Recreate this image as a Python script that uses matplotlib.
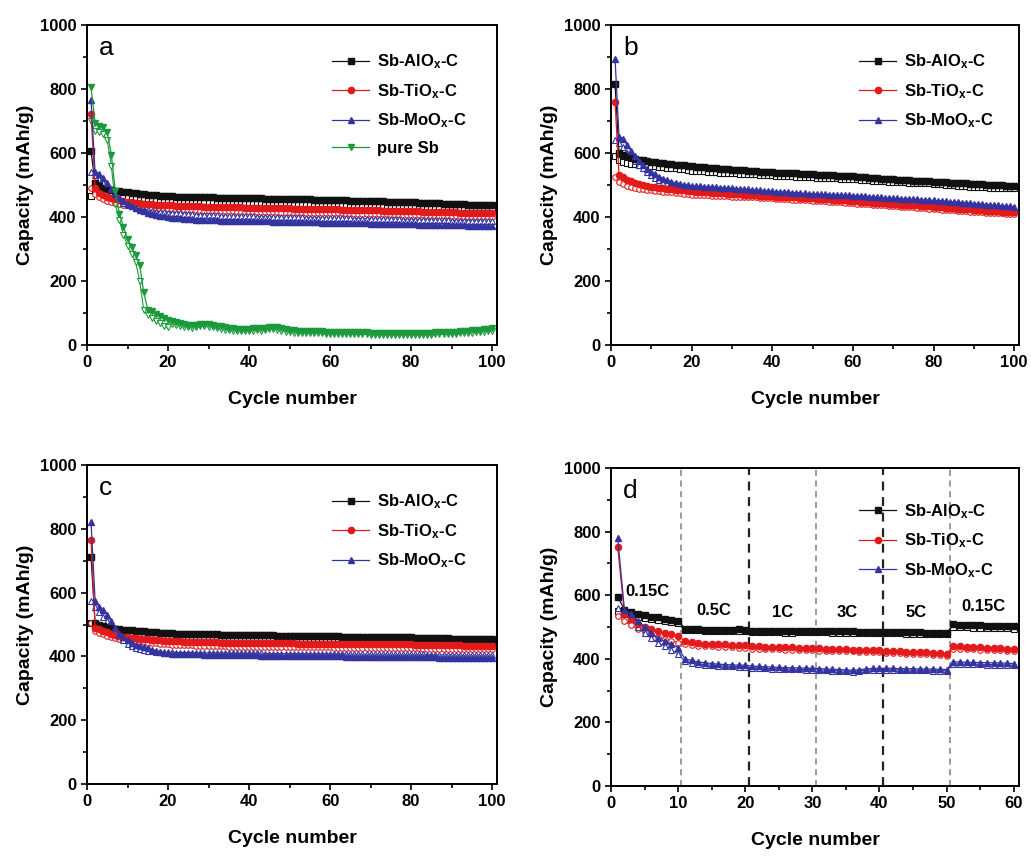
import numpy as np
import matplotlib
matplotlib.use("Agg")
import matplotlib.pyplot as plt

plt.rcParams['font.family'] = ['Liberation Sans', 'DejaVu Sans']
plt.rcParams['mathtext.fontset'] = 'custom'
plt.rcParams['mathtext.rm'] = 'Liberation Sans:bold'
plt.rcParams['mathtext.it'] = 'Liberation Sans:bold'
plt.rcParams['mathtext.bf'] = 'Liberation Sans:bold'

# ---- data (capacity, mAh/g), read per cycle from the figure ----
# panel a
a_al_ch = [605, 505, 497, 492, 488, 485, 482, 480, 478, 477,
           475, 474, 472, 471, 470, 469, 468, 467, 466, 465,
           465, 464, 464, 463, 463, 462, 462, 462, 461, 461,
           461, 460, 460, 460, 460, 459, 459, 459, 459, 458,
           458, 458, 458, 457, 457, 457, 457, 456, 456, 456,
           456, 455, 455, 455, 455, 454, 454, 454, 453, 453,
           453, 452, 452, 452, 451, 451, 451, 450, 450, 450,
           449, 449, 449, 448, 448, 448, 447, 447, 446, 446,
           446, 445, 445, 444, 444, 443, 443, 442, 442, 441,
           441, 440, 440, 439, 439, 438, 438, 437, 437, 437]
a_al_dis = [465, 482, 478, 474, 471, 469, 467, 465, 464, 462,
            461, 460, 459, 458, 457, 456, 455, 454, 453, 452,
            452, 451, 451, 450, 450, 450, 449, 449, 449, 448,
            448, 448, 448, 447, 447, 447, 447, 446, 446, 446,
            446, 445, 445, 445, 445, 444, 444, 444, 444, 443,
            443, 443, 443, 442, 442, 442, 442, 441, 441, 441,
            441, 440, 440, 440, 439, 439, 439, 438, 438, 438,
            437, 437, 437, 436, 436, 436, 435, 435, 434, 434,
            434, 433, 433, 432, 432, 431, 431, 430, 430, 429,
            429, 428, 428, 427, 427, 426, 426, 425, 425, 425]
a_ti_ch = [722, 490, 476, 468, 462, 458, 455, 452, 450, 448,
           446, 445, 443, 442, 441, 440, 439, 438, 437, 436,
           436, 435, 435, 434, 434, 433, 433, 433, 432, 432,
           432, 431, 431, 431, 430, 430, 430, 430, 429, 429,
           429, 429, 428, 428, 428, 428, 427, 427, 427, 427,
           426, 426, 426, 426, 425, 425, 425, 425, 424, 424,
           424, 424, 423, 423, 423, 422, 422, 422, 422, 421,
           421, 421, 420, 420, 420, 420, 419, 419, 419, 418,
           418, 418, 417, 417, 417, 416, 416, 416, 415, 415,
           415, 414, 414, 414, 413, 413, 413, 412, 412, 412]
a_ti_dis = [490, 472, 462, 455, 450, 446, 443, 440, 438, 436,
            434, 432, 431, 430, 429, 428, 427, 426, 425, 424,
            424, 423, 423, 422, 422, 421, 421, 420, 420, 420,
            419, 419, 419, 418, 418, 418, 417, 417, 417, 416,
            416, 416, 416, 415, 415, 415, 415, 414, 414, 414,
            414, 413, 413, 413, 413, 412, 412, 412, 412, 411,
            411, 411, 411, 410, 410, 410, 410, 409, 409, 409,
            408, 408, 408, 408, 407, 407, 407, 406, 406, 406,
            405, 405, 405, 404, 404, 404, 403, 403, 403, 402,
            402, 402, 401, 401, 401, 400, 400, 400, 399, 399]
a_mo_ch = [765, 540, 535, 522, 505, 488, 472, 460, 450, 442,
           435, 428, 422, 418, 414, 410, 407, 404, 402, 400,
           398, 397, 396, 395, 394, 393, 392, 392, 391, 391,
           390, 390, 389, 389, 389, 388, 388, 388, 387, 387,
           387, 386, 386, 386, 386, 385, 385, 385, 385, 384,
           384, 384, 384, 383, 383, 383, 383, 382, 382, 382,
           382, 381, 381, 381, 381, 380, 380, 380, 380, 379,
           379, 379, 379, 378, 378, 378, 378, 377, 377, 377,
           377, 376, 376, 376, 376, 375, 375, 375, 375, 374,
           374, 374, 374, 373, 373, 373, 372, 372, 371, 371]
a_mo_dis = [540, 530, 518, 505, 490, 475, 462, 452, 444, 438,
            433, 429, 426, 423, 421, 419, 417, 416, 415, 414,
            413, 412, 411, 410, 409, 408, 407, 407, 406, 406,
            405, 405, 404, 404, 404, 403, 403, 403, 402, 402,
            402, 401, 401, 401, 401, 400, 400, 400, 400, 399,
            399, 399, 399, 398, 398, 398, 398, 397, 397, 397,
            397, 396, 396, 396, 396, 395, 395, 395, 395, 394,
            394, 394, 394, 393, 393, 393, 393, 392, 392, 392,
            392, 391, 391, 391, 391, 390, 390, 390, 390, 389,
            389, 389, 389, 388, 388, 388, 387, 387, 386, 386]
a_sb_ch = [805, 695, 685, 680, 665, 595, 480, 410, 370, 330,
           305, 280, 250, 165, 110, 105, 98, 92, 85, 78,
           75, 72, 70, 66, 63, 62, 64, 66, 67, 65,
           63, 60, 58, 55, 53, 52, 51, 50, 50, 51,
           52, 53, 52, 54, 56, 57, 55, 52, 49, 47,
           46, 45, 45, 44, 44, 43, 43, 43, 42, 42,
           42, 41, 41, 41, 40, 40, 40, 40, 40, 39,
           39, 39, 39, 39, 38, 38, 38, 38, 38, 38,
           38, 38, 39, 39, 39, 40, 40, 40, 41, 41,
           42, 43, 44, 45, 46, 47, 48, 49, 50, 52]
a_sb_dis = [700, 670, 665, 658, 640, 560, 440, 390, 345, 310,
            285, 260, 200, 110, 95, 85, 75, 68, 60, 55,
            65, 63, 60, 57, 55, 54, 56, 58, 59, 57,
            55, 52, 50, 48, 46, 45, 44, 43, 43, 44,
            45, 46, 45, 47, 49, 50, 48, 45, 42, 40,
            39, 38, 38, 37, 37, 36, 36, 36, 35, 35,
            35, 34, 34, 34, 33, 33, 33, 33, 33, 32,
            32, 32, 32, 32, 31, 31, 31, 31, 31, 31,
            31, 31, 32, 32, 32, 33, 33, 33, 34, 34,
            35, 36, 37, 38, 39, 40, 41, 42, 43, 45]

# panel b
b_al_ch = [815, 600, 595, 590, 586, 582, 579, 577, 575, 573,
           571, 570, 568, 567, 565, 564, 562, 561, 560, 558,
           557, 556, 555, 554, 553, 552, 551, 550, 549, 548,
           547, 546, 546, 545, 544, 543, 542, 542, 541, 540,
           539, 539, 538, 537, 536, 536, 535, 534, 534, 533,
           532, 532, 531, 530, 530, 529, 529, 528, 527, 527,
           526, 525, 524, 523, 522, 521, 520, 520, 519, 518,
           517, 516, 516, 515, 514, 513, 513, 512, 511, 510,
           509, 509, 508, 507, 507, 506, 505, 505, 504, 503,
           503, 502, 501, 501, 500, 500, 499, 498, 498, 497]
b_al_dis = [590, 578, 572, 569, 567, 565, 563, 562, 561, 560,
            558, 557, 556, 554, 553, 552, 550, 549, 547, 545,
            544, 544, 543, 542, 541, 540, 539, 538, 538, 537,
            536, 535, 535, 534, 533, 533, 532, 531, 531, 530,
            529, 529, 528, 527, 527, 526, 526, 525, 524, 524,
            523, 523, 522, 522, 521, 521, 520, 520, 520, 519,
            518, 517, 516, 515, 514, 513, 512, 511, 510, 509,
            509, 508, 508, 507, 507, 506, 506, 505, 505, 504,
            503, 502, 501, 500, 499, 498, 497, 496, 495, 494,
            494, 493, 493, 492, 492, 491, 491, 490, 490, 490]
b_ti_ch = [760, 530, 525, 517, 511, 507, 503, 500, 497, 495,
           493, 491, 490, 488, 487, 485, 484, 483, 481, 480,
           479, 478, 478, 477, 476, 475, 474, 474, 473, 472,
           471, 471, 470, 469, 469, 468, 467, 467, 466, 465,
           464, 464, 463, 462, 461, 461, 460, 459, 458, 458,
           457, 456, 455, 455, 454, 453, 452, 452, 451, 450,
           449, 448, 447, 446, 445, 445, 444, 443, 442, 441,
           440, 439, 438, 437, 436, 436, 435, 434, 433, 432,
           431, 430, 429, 428, 427, 426, 426, 425, 424, 423,
           422, 421, 420, 420, 419, 418, 417, 417, 416, 415]
b_ti_dis = [525, 510, 502, 497, 493, 490, 488, 486, 484, 483,
            481, 480, 479, 478, 477, 475, 474, 473, 471, 470,
            469, 469, 468, 468, 467, 466, 466, 465, 465, 464,
            464, 463, 462, 462, 461, 461, 460, 459, 459, 458,
            457, 457, 456, 455, 454, 454, 453, 452, 452, 451,
            450, 449, 449, 448, 447, 446, 446, 445, 444, 443,
            442, 441, 440, 440, 439, 438, 437, 436, 435, 434,
            433, 432, 432, 431, 430, 429, 428, 427, 426, 425,
            424, 423, 422, 421, 421, 420, 419, 418, 417, 416,
            415, 415, 414, 413, 412, 411, 411, 410, 409, 408]
b_mo_ch = [895, 650, 645, 625, 605, 590, 575, 562, 550, 540,
           533, 526, 520, 515, 510, 507, 504, 501, 499, 498,
           497, 496, 495, 494, 494, 493, 492, 491, 491, 490,
           489, 488, 487, 486, 485, 484, 483, 482, 481, 480,
           479, 479, 478, 477, 476, 476, 475, 474, 473, 473,
           472, 471, 471, 470, 470, 469, 469, 468, 468, 467,
           466, 466, 465, 464, 463, 462, 461, 460, 459, 458,
           458, 457, 457, 456, 455, 455, 454, 454, 453, 452,
           451, 450, 449, 448, 447, 446, 445, 444, 443, 442,
           441, 440, 439, 438, 437, 436, 435, 434, 433, 432]
b_mo_dis = [640, 630, 618, 600, 588, 575, 563, 552, 540, 530,
            522, 515, 510, 505, 500, 497, 494, 491, 489, 488,
            487, 486, 485, 484, 483, 482, 481, 480, 479, 478,
            477, 477, 476, 475, 474, 473, 473, 472, 471, 470,
            469, 469, 468, 468, 467, 466, 466, 465, 465, 464,
            463, 463, 462, 462, 461, 460, 460, 459, 459, 458,
            457, 456, 456, 455, 454, 453, 452, 451, 450, 449,
            449, 448, 448, 447, 446, 446, 445, 444, 443, 442,
            441, 440, 439, 438, 437, 436, 435, 434, 433, 432,
            432, 431, 430, 430, 429, 428, 427, 426, 426, 425]

# panel c
c_al_ch = [712, 505, 500, 496, 492, 489, 487, 485, 484, 483,
           482, 481, 480, 479, 478, 477, 476, 474, 473, 472,
           472, 471, 471, 471, 470, 470, 470, 470, 469, 469,
           469, 469, 468, 468, 468, 468, 468, 467, 467, 467,
           467, 466, 466, 466, 466, 466, 465, 465, 465, 465,
           465, 465, 464, 464, 464, 464, 464, 463, 463, 463,
           463, 463, 462, 462, 462, 462, 462, 462, 461, 461,
           461, 461, 461, 461, 460, 460, 460, 460, 460, 460,
           459, 459, 459, 458, 458, 458, 457, 457, 457, 456,
           456, 456, 455, 455, 455, 454, 454, 454, 453, 453]
c_al_dis = [505, 495, 491, 488, 485, 482, 480, 478, 476, 475,
            474, 473, 472, 471, 470, 469, 468, 467, 466, 465,
            464, 464, 463, 463, 462, 462, 462, 461, 461, 461,
            460, 460, 460, 460, 459, 459, 459, 459, 458, 458,
            458, 458, 458, 457, 457, 457, 457, 457, 456, 456,
            456, 456, 456, 456, 455, 455, 455, 455, 455, 455,
            454, 454, 454, 454, 453, 453, 453, 453, 452, 452,
            452, 452, 451, 451, 451, 451, 450, 450, 450, 450,
            449, 449, 449, 449, 448, 448, 448, 448, 447, 447,
            447, 447, 446, 446, 446, 446, 445, 445, 445, 445]
c_ti_ch = [765, 490, 485, 480, 475, 471, 468, 465, 462, 460,
           458, 457, 455, 454, 453, 452, 451, 450, 449, 448,
           448, 447, 447, 446, 446, 445, 445, 445, 444, 444,
           444, 444, 443, 443, 443, 443, 443, 442, 442, 442,
           442, 442, 442, 441, 441, 441, 441, 441, 441, 441,
           441, 440, 440, 440, 440, 440, 440, 440, 440, 440,
           440, 439, 439, 439, 439, 439, 439, 439, 439, 439,
           438, 438, 438, 438, 438, 438, 438, 438, 438, 438,
           437, 437, 437, 437, 436, 436, 436, 436, 435, 435,
           435, 435, 434, 434, 434, 434, 433, 433, 433, 433]
c_ti_dis = [505, 480, 474, 469, 465, 461, 458, 455, 452, 450,
            448, 447, 445, 444, 443, 442, 441, 440, 439, 438,
            437, 437, 436, 436, 435, 435, 434, 434, 433, 433,
            433, 432, 432, 432, 431, 431, 431, 431, 430, 430,
            430, 430, 430, 429, 429, 429, 429, 429, 429, 429,
            428, 428, 428, 428, 428, 428, 428, 428, 428, 428,
            427, 427, 427, 427, 427, 427, 427, 426, 426, 426,
            426, 426, 426, 426, 426, 425, 425, 425, 425, 425,
            425, 425, 424, 424, 424, 424, 424, 424, 423, 423,
            423, 423, 423, 423, 422, 422, 422, 422, 422, 422]
c_mo_ch = [820, 575, 555, 545, 530, 510, 490, 470, 460, 450,
           443, 437, 432, 428, 425, 421, 418, 415, 412, 410,
           409, 409, 408, 408, 407, 407, 406, 406, 405, 405,
           405, 405, 404, 404, 404, 404, 404, 403, 403, 403,
           403, 403, 402, 402, 402, 402, 402, 402, 401, 401,
           401, 401, 401, 401, 401, 400, 400, 400, 400, 400,
           400, 400, 400, 399, 399, 399, 399, 399, 399, 399,
           399, 399, 398, 398, 398, 398, 398, 398, 398, 398,
           397, 397, 397, 397, 397, 397, 396, 396, 396, 396,
           396, 396, 395, 395, 395, 395, 395, 395, 395, 395]
c_mo_dis = [575, 555, 540, 525, 510, 495, 480, 465, 452, 440,
            432, 427, 423, 420, 418, 416, 415, 414, 413, 413,
            413, 412, 412, 412, 412, 412, 411, 411, 411, 411,
            411, 411, 411, 410, 410, 410, 410, 410, 410, 410,
            410, 410, 410, 409, 409, 409, 409, 409, 409, 409,
            409, 409, 409, 408, 408, 408, 408, 408, 408, 408,
            408, 408, 408, 408, 407, 407, 407, 407, 407, 407,
            407, 407, 407, 407, 406, 406, 406, 406, 406, 406,
            406, 406, 406, 405, 405, 405, 405, 405, 405, 405,
            405, 404, 404, 404, 404, 404, 404, 404, 404, 404]

# panel d (rate test)
d_al_ch = [595, 555, 548, 540, 537, 533, 530, 525, 522, 520,
           495, 493, 493, 492, 492, 491, 491, 492, 493, 492,
           488, 487, 487, 486, 486, 486, 486, 487, 487, 487,
           487, 487, 486, 486, 486, 486, 485, 485, 485, 485,
           485, 484, 484, 483, 483, 483, 482, 482, 482, 480,
           508, 507, 506, 505, 505, 504, 504, 503, 503, 502]
d_al_dis = [550, 540, 535, 530, 527, 524, 521, 518, 515, 512,
            490, 489, 489, 488, 488, 487, 487, 488, 488, 488,
            484, 484, 483, 483, 483, 482, 482, 483, 483, 483,
            483, 483, 482, 482, 482, 482, 481, 481, 481, 481,
            481, 480, 480, 479, 479, 479, 478, 478, 478, 477,
            500, 499, 499, 498, 498, 497, 497, 496, 496, 495]
d_ti_ch = [752, 540, 525, 510, 500, 494, 488, 482, 477, 472,
           455, 452, 450, 448, 447, 446, 445, 444, 443, 442,
           440, 439, 438, 437, 437, 436, 436, 435, 435, 434,
           433, 432, 431, 430, 430, 429, 429, 428, 428, 427,
           425, 424, 423, 422, 421, 420, 420, 419, 418, 415,
           440, 439, 438, 437, 436, 435, 434, 433, 432, 430]
d_ti_dis = [535, 518, 505, 494, 485, 477, 470, 463, 457, 451,
            445, 443, 441, 440, 439, 438, 437, 436, 435, 434,
            432, 431, 431, 430, 430, 429, 429, 428, 428, 427,
            426, 425, 424, 424, 423, 423, 422, 422, 421, 421,
            419, 418, 417, 416, 415, 415, 414, 413, 412, 410,
            432, 431, 430, 430, 429, 428, 427, 427, 426, 425]
d_mo_ch = [780, 555, 540, 520, 500, 480, 465, 455, 445, 435,
           400, 395, 390, 388, 385, 383, 382, 381, 380, 380,
           377, 376, 375, 374, 373, 372, 372, 371, 371, 370,
           369, 368, 367, 366, 365, 364, 366, 368, 370, 370,
           370, 370, 369, 369, 369, 368, 368, 368, 367, 366,
           390, 390, 389, 389, 388, 388, 387, 387, 386, 385]
d_mo_dis = [560, 545, 525, 500, 480, 465, 450, 440, 428, 415,
            392, 388, 384, 382, 380, 378, 377, 376, 375, 375,
            372, 371, 370, 369, 368, 368, 367, 367, 366, 366,
            365, 364, 363, 362, 361, 360, 362, 364, 365, 365,
            365, 365, 365, 364, 364, 364, 364, 363, 363, 362,
            384, 384, 383, 383, 383, 382, 382, 381, 381, 380]

labels = ['Sb-AlO$_x$-C', 'Sb-TiO$_x$-C', 'Sb-MoO$_x$-C', 'pure Sb']
colors = ['#111111', '#e31a1c', '#3434a0', '#1b9a3c']
markers = ['s', 'o', '^', 'v']

rate_pos = [10.5, 20.5, 30.5, 40.5, 50.5]
rate_dark = [False, True, False, True, False]
rate_names = ['0.15C', '0.5C', '1C', '3C', '5C', '0.15C']
rate_x = [5.5, 15.3, 25.5, 35.2, 45.4, 55.5]
rate_y = [612, 553, 545, 545, 545, 565]

panels = [
    ('a', [(a_al_ch, a_al_dis), (a_ti_ch, a_ti_dis), (a_mo_ch, a_mo_dis), (a_sb_ch, a_sb_dis)]),
    ('b', [(b_al_ch, b_al_dis), (b_ti_ch, b_ti_dis), (b_mo_ch, b_mo_dis)]),
    ('c', [(c_al_ch, c_al_dis), (c_ti_ch, c_ti_dis), (c_mo_ch, c_mo_dis)]),
    ('d', [(d_al_ch, d_al_dis), (d_ti_ch, d_ti_dis), (d_mo_ch, d_mo_dis)]),
]

W, H = 1031, 863
boxes = {
    'a': (87, 25, 497, 345),
    'b': (611, 25, 1019, 345),
    'c': (87, 465, 497, 784),
    'd': (611, 468, 1019, 786),
}
legend_anchor = {'a': (0.57, 0.95), 'b': (0.58, 0.95), 'c': (0.57, 0.95), 'd': (0.58, 0.93)}

fig = plt.figure(figsize=(W / 100, H / 100), dpi=100)

for name, series in panels:
    x0, y0, x1, y1 = boxes[name]
    ax = fig.add_axes([x0 / W, 1 - y1 / H, (x1 - x0) / W, (y1 - y0) / H])
    handles = []
    for i, (ch, dis) in enumerate(series):
        cyc = np.arange(1, len(ch) + 1)
        ax.plot(cyc, dis, color=colors[i], lw=0.8, marker=markers[i], ms=4,
                mfc='white', mec=colors[i], mew=0.8, zorder=2)
        h, = ax.plot(cyc, ch, color=colors[i], lw=0.9, marker=markers[i], ms=4.5,
                     mfc=colors[i], mec=colors[i], zorder=3)
        handles.append(h)

    if name == 'd':
        ax.set_xlim(0, 60.8)
        ax.set_xticks(range(0, 61, 10))
        ax.set_xticks(range(5, 61, 10), minor=True)
        for xp, dark in zip(rate_pos, rate_dark):
            ax.axvline(xp, color='#222222' if dark else '#808080', ls='--',
                       lw=1.6 if dark else 1.1, dashes=(4, 3), zorder=1)
        for t, xt, yt in zip(rate_names, rate_x, rate_y):
            ax.text(xt, yt, t, fontsize=12, fontweight='bold', ha='center', va='center')
    else:
        ax.set_xlim(0, 101.2)
        ax.set_xticks(range(0, 101, 20))
        ax.set_xticks(range(10, 101, 20), minor=True)

    ax.set_ylim(0, 1000)
    ax.set_yticks(range(0, 1001, 200))
    ax.set_yticks(range(100, 1000, 200), minor=True)

    ax.tick_params(which='both', direction='out', labelsize=12, width=1.2)
    ax.tick_params(which='major', length=4)
    ax.tick_params(which='minor', length=3)
    for lab in ax.get_xticklabels() + ax.get_yticklabels():
        lab.set_fontweight('bold')
    for sp in ax.spines.values():
        sp.set_linewidth(1.4)

    ax.set_xlabel('Cycle number', fontsize=14, fontweight='bold', labelpad=15)
    ax.set_ylabel('Capacity (mAh/g)', fontsize=14, fontweight='bold', labelpad=4)
    ax.text(0.03, 0.965, name, transform=ax.transAxes, fontsize=19,
            ha='left', va='top')

    ax.legend(handles, labels[:len(series)], loc='upper left',
              bbox_to_anchor=legend_anchor[name], frameon=False,
              prop={'size': 12, 'weight': 'bold'},
              handlelength=2.2, handletextpad=0.5, labelspacing=0.65,
              borderpad=0.2)

fig.savefig('out.png', dpi=100)
